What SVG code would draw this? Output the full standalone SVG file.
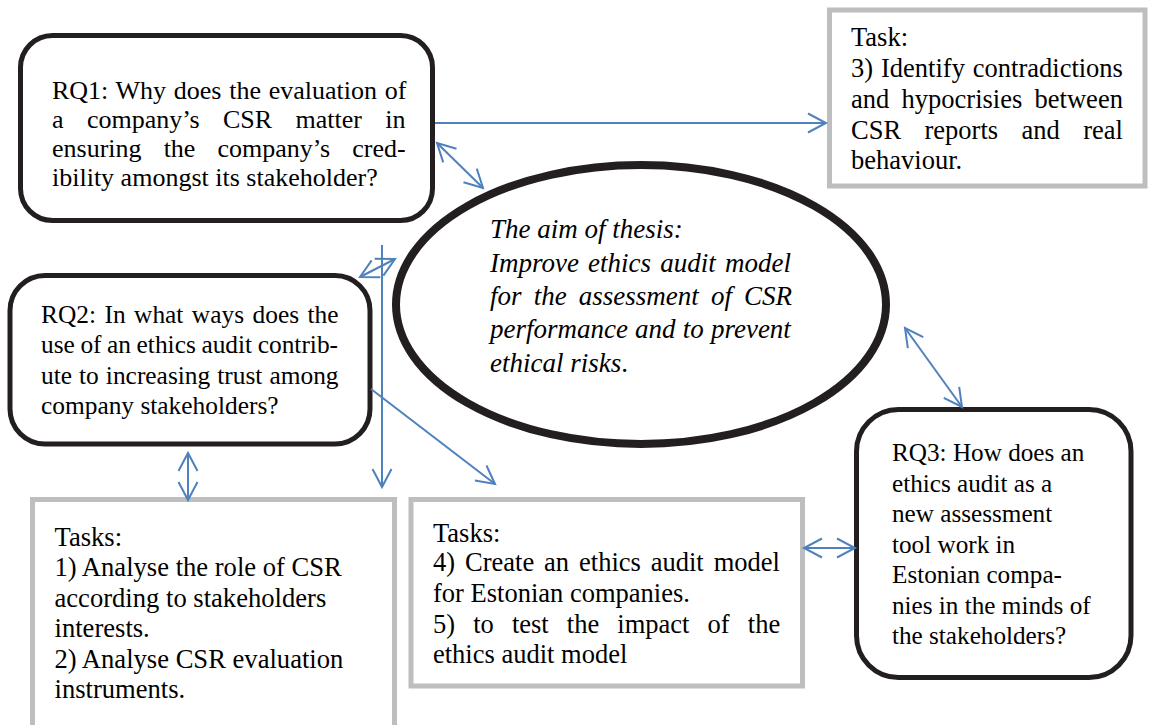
<svg xmlns="http://www.w3.org/2000/svg" width="1152" height="725" viewBox="0 0 1152 725">
<style>
.rq{fill:#fff;stroke:#231f20;stroke-width:5}
.task{fill:#fff;stroke:#bcbec0;stroke-width:5}
.aim{fill:#fff;stroke:#231f20;stroke-width:8}
text{font-family:"Liberation Serif","Times New Roman",serif;fill:#000}
.it{font-style:italic}
.con{stroke:#4f81bd;stroke-width:2;fill:none}
</style>
<defs>
<marker id="ah" markerUnits="userSpaceOnUse" markerWidth="22" markerHeight="24" refX="19" refY="11" orient="auto-start-reverse" viewBox="0 0 22 24">
<path d="M1,1.5 L19,11 L1,20.5" fill="none" stroke="#4f81bd" stroke-width="2"/>
</marker>
</defs>
<rect width="1152" height="725" fill="#fff"/>

<g id="aim">
<ellipse class="aim" cx="641" cy="304.5" rx="245" ry="139.5"/>
<text class="it" font-size="27">
<tspan x="490" y="238">The aim of thesis:</tspan>
<tspan x="490" y="272" word-spacing="2.4">Improve ethics audit model</tspan>
<tspan x="490" y="305" word-spacing="5.4">for the assessment of CSR</tspan>
<tspan x="490" y="338" word-spacing="0.4">performance and to prevent</tspan>
<tspan x="490" y="372">ethical risks<tspan font-style="normal">.</tspan></tspan>
</text>
</g>

<g id="rq1">
<rect class="rq" x="20.5" y="35.5" width="412" height="185" rx="32"/>
<text font-size="26">
<tspan x="52" y="99" word-spacing="1.2">RQ1: Why does the evaluation of</tspan>
<tspan x="52" y="128" word-spacing="16.9">a company’s CSR matter in</tspan>
<tspan x="52" y="157" word-spacing="15.6">ensuring the company’s cred-</tspan>
<tspan x="52" y="186">ibility amongst its stakeholder?</tspan>
</text>
</g>

<g id="task3">
<rect class="task" x="829.5" y="10" width="315.5" height="176"/>
<text font-size="26.5">
<tspan x="851" y="46">Task:</tspan>
<tspan x="851" y="77" word-spacing="1.3">3) Identify contradictions</tspan>
<tspan x="851" y="108" word-spacing="5.7">and hypocrisies between</tspan>
<tspan x="851" y="138.5" word-spacing="16.8">CSR reports and real</tspan>
<tspan x="851" y="168.5">behaviour.</tspan>
</text>
</g>

<g id="rq2">
<rect class="rq" x="10" y="275.5" width="360" height="168.5" rx="35"/>
<text font-size="25.4">
<tspan x="41" y="323" word-spacing="2.1">RQ2: In what ways does the</tspan>
<tspan x="41" y="353" word-spacing="-0.8">use of an ethics audit contrib-</tspan>
<tspan x="41" y="384" word-spacing="0.7">ute to increasing trust among</tspan>
<tspan x="41" y="414">company stakeholders?</tspan>
</text>
</g>

<g id="rq3">
<rect class="rq" x="856.5" y="409.5" width="274.5" height="268" rx="42"/>
<text font-size="25.2">
<tspan x="892" y="461">RQ3: How does an</tspan>
<tspan x="892" y="492">ethics audit as a</tspan>
<tspan x="892" y="522">new assessment</tspan>
<tspan x="892" y="553">tool work in</tspan>
<tspan x="892" y="583">Estonian compa-</tspan>
<tspan x="892" y="614">nies in the minds of</tspan>
<tspan x="892" y="644">the stakeholders?</tspan>
</text>
</g>

<g id="tasks12">
<rect class="task" x="32.5" y="499.5" width="362" height="240"/>
<text font-size="26.6">
<tspan x="54.5" y="546">Tasks:</tspan>
<tspan x="54.5" y="576">1) Analyse the role of CSR</tspan>
<tspan x="54.5" y="607">according to stakeholders</tspan>
<tspan x="54.5" y="637">interests.</tspan>
<tspan x="54.5" y="668">2) Analyse CSR evaluation</tspan>
<tspan x="54.5" y="698">instruments.</tspan>
</text>
</g>

<g id="tasks45">
<rect class="task" x="411" y="499.5" width="391.5" height="186.5"/>
<text font-size="26.5">
<tspan x="433" y="542">Tasks:</tspan>
<tspan x="433" y="571" word-spacing="3.3">4) Create an ethics audit model</tspan>
<tspan x="433" y="602">for Estonian companies.</tspan>
<tspan x="433" y="633" word-spacing="11.5">5) to test the impact of the</tspan>
<tspan x="433" y="663">ethics audit model</tspan>
</text>
</g>

<g id="connectors">
<line class="con" x1="435" y1="123" x2="826" y2="123" marker-end="url(#ah)"/>
<line class="con" x1="437" y1="143" x2="483" y2="188" marker-start="url(#ah)" marker-end="url(#ah)"/>
<line class="con" x1="382" y1="245" x2="382" y2="487" marker-end="url(#ah)"/>
<line class="con" x1="360" y1="277" x2="395" y2="259" marker-start="url(#ah)" marker-end="url(#ah)"/>
<line class="con" x1="371" y1="389" x2="495" y2="484" marker-end="url(#ah)"/>
<line class="con" x1="188" y1="453" x2="188" y2="500" marker-start="url(#ah)" marker-end="url(#ah)"/>
<line class="con" x1="905" y1="328" x2="962" y2="407" marker-start="url(#ah)" marker-end="url(#ah)"/>
<line class="con" x1="804" y1="548" x2="855" y2="548" marker-start="url(#ah)" marker-end="url(#ah)"/>
</g>
</svg>
